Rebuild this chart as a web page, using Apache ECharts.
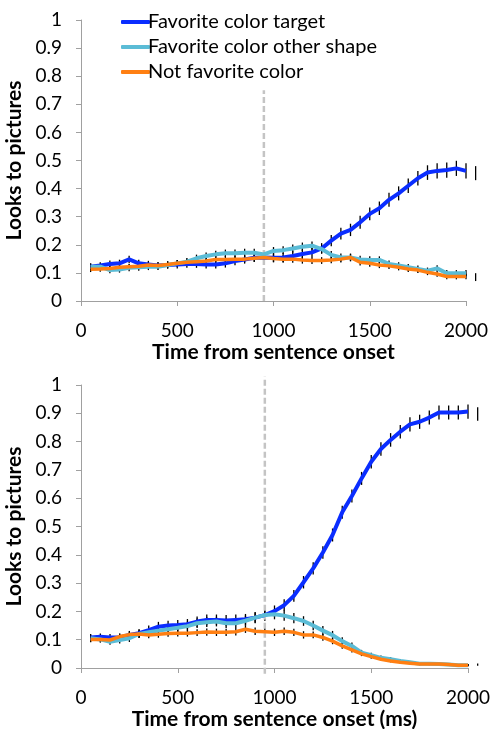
<!DOCTYPE html>
<html><head><meta charset="utf-8">
<script src="https://cdn.jsdelivr.net/npm/echarts@6/dist/echarts.min.js"></script>
<style>html,body{margin:0;padding:0;background:#fff}#c{width:490px;height:729px}</style>
</head><body><div id="c"></div>
<script>
var time = [50,100,150,200,250,300,350,400,450,500,550,600,650,700,750,800,850,900,950,1000,
            1050,1100,1150,1200,1250,1300,1350,1400,1450,1500,1550,1600,1650,1700,1750,1800,1850,1900,1950,2000];
var seriesNames = ['Favorite color target','Favorite color other shape','Not favorite color'];
var yTicks = [0,0.1,0.2,0.3,0.4,0.5,0.6,0.7,0.8,0.9,1];
var xTicks = [0,500,1000,1500,2000];
var markerTime = 950;
var topMarker = [0, 0.75];
var botMarker = [-0.02, 1.03];

var topTarget = [0.122,0.126,0.132,0.134,0.148,0.134,0.130,0.126,0.128,0.130,0.132,0.132,0.130,0.130,0.134,0.142,0.148,0.154,0.155,0.154,
                 0.155,0.160,0.167,0.173,0.187,0.215,0.240,0.253,0.280,0.310,0.330,0.360,0.383,0.410,0.437,0.457,0.463,0.466,0.472,0.463];
var topOther  = [0.122,0.122,0.110,0.112,0.118,0.120,0.122,0.122,0.128,0.134,0.140,0.152,0.160,0.166,0.170,0.170,0.172,0.172,0.166,0.178,
                 0.181,0.187,0.193,0.197,0.185,0.164,0.155,0.155,0.148,0.146,0.146,0.132,0.126,0.120,0.114,0.108,0.116,0.099,0.099,0.099];
var topNot    = [0.113,0.114,0.116,0.120,0.122,0.124,0.128,0.126,0.130,0.134,0.138,0.140,0.142,0.148,0.148,0.149,0.149,0.152,0.155,0.151,
                 0.149,0.149,0.146,0.144,0.144,0.146,0.149,0.155,0.138,0.134,0.128,0.125,0.120,0.114,0.110,0.102,0.096,0.087,0.087,0.087];
var topTargetErr = [0.012,0.012,0.012,0.013,0.013,0.013,0.013,0.013,0.013,0.014,0.014,0.014,0.014,0.014,0.015,0.015,0.015,0.015,0.016,0.016,
                    0.016,0.017,0.017,0.018,0.019,0.020,0.021,0.022,0.023,0.023,0.024,0.025,0.025,0.026,0.026,0.026,0.027,0.027,0.027,0.027];
var topOtherErr  = [0.011,0.011,0.011,0.011,0.012,0.012,0.012,0.012,0.012,0.012,0.013,0.013,0.013,0.013,0.013,0.013,0.014,0.014,0.014,0.014,
                    0.014,0.014,0.015,0.015,0.015,0.014,0.014,0.014,0.013,0.013,0.013,0.012,0.012,0.012,0.012,0.011,0.011,0.011,0.011,0.011];
var topNotErr    = [0.010,0.010,0.010,0.011,0.011,0.011,0.011,0.011,0.011,0.012,0.012,0.012,0.012,0.012,0.012,0.012,0.012,0.012,0.013,0.013,
                    0.013,0.013,0.013,0.012,0.012,0.012,0.012,0.012,0.012,0.012,0.011,0.011,0.011,0.011,0.010,0.010,0.010,0.010,0.010,0.010];
var topExtraBars = [[2050,0.430,0.480],[2050,0.071,0.099]];

var botTarget = [0.108,0.110,0.108,0.108,0.117,0.123,0.134,0.146,0.150,0.152,0.155,0.164,0.170,0.170,0.168,0.170,0.172,0.178,0.187,0.201,
                 0.222,0.255,0.303,0.352,0.408,0.470,0.550,0.608,0.670,0.729,0.774,0.806,0.835,0.861,0.870,0.885,0.903,0.903,0.903,0.906];
var botOther  = [0.105,0.101,0.093,0.099,0.105,0.120,0.126,0.132,0.137,0.142,0.148,0.158,0.162,0.164,0.158,0.158,0.167,0.178,0.187,0.190,
                 0.185,0.176,0.166,0.150,0.132,0.116,0.095,0.078,0.054,0.045,0.036,0.031,0.025,0.020,0.015,0.015,0.014,0.012,0.010,0.010];
var botNot    = [0.101,0.101,0.099,0.111,0.118,0.120,0.117,0.119,0.122,0.123,0.123,0.125,0.127,0.126,0.126,0.128,0.137,0.130,0.128,0.126,
                 0.130,0.126,0.117,0.117,0.108,0.095,0.078,0.064,0.050,0.040,0.031,0.025,0.020,0.017,0.014,0.014,0.014,0.012,0.010,0.010];
var botTargetErr = [0.012,0.012,0.012,0.013,0.014,0.015,0.016,0.017,0.017,0.018,0.018,0.018,0.019,0.019,0.019,0.019,0.019,0.020,0.020,0.020,
                    0.021,0.021,0.022,0.022,0.022,0.023,0.023,0.023,0.023,0.024,0.024,0.024,0.024,0.025,0.025,0.025,0.025,0.025,0.025,0.025];
var botOtherErr  = [0.011,0.011,0.011,0.012,0.013,0.014,0.015,0.015,0.016,0.016,0.016,0.017,0.017,0.017,0.017,0.017,0.018,0.018,0.018,0.018,
                    0.018,0.018,0.017,0.017,0.016,0.015,0.014,0.012,0.010,0.009,0.008,0.007,0.006,0.005,0.005,0.004,0.004,0.004,0.004,0.004];
var botNotErr    = [0.010,0.010,0.010,0.011,0.011,0.012,0.012,0.012,0.012,0.012,0.012,0.012,0.013,0.013,0.013,0.013,0.013,0.013,0.013,0.013,
                    0.013,0.013,0.013,0.012,0.012,0.011,0.010,0.009,0.008,0.007,0.006,0.005,0.005,0.004,0.004,0.004,0.004,0.004,0.004,0.004];
var botExtraBars = [[2050,0.874,0.921],[2050,0.008,0.016]];

var colors = ['#0a2dff','#5bbcd6','#ff7f12'];
var FONT = 'Lato';

function pairs(vals){ return time.map(function(t,i){ return [t, vals[i]]; }); }
function bars(vals, errs){ return time.map(function(t,i){ return [t, vals[i]-errs[i], vals[i]+errs[i]]; }); }
function errItem(params, api){
  var x = api.value(0), p1 = api.coord([x, api.value(1)]), p2 = api.coord([x, api.value(2)]);
  return {type:'line', shape:{x1:p1[0],y1:p1[1],x2:p2[0],y2:p2[1]}, style:{stroke:'#000', lineWidth:1.3}};
}
function errSeries(idx, data){
  return {type:'custom', xAxisIndex:idx, yAxisIndex:idx, renderItem:errItem, data:data,
          encode:{x:0,y:[1,2]}, silent:true, z:1, clip:false};
}
function lineSeries(idx, name, vals, color, w){
  return {type:'line', name:name, xAxisIndex:idx, yAxisIndex:idx, data:pairs(vals), showSymbol:false,
          symbol:'none', lineStyle:{color:color, width:w}, itemStyle:{color:color}, z:3, silent:true, animation:false};
}
function markerSeries(idx, range){
  return {type:'line', xAxisIndex:idx, yAxisIndex:idx, data:[[markerTime,range[0]],[markerTime,range[1]]],
          showSymbol:false, symbol:'none', clip:false, lineStyle:{color:'#c4c4c4', width:2.5, type:[6,3]}, z:2, silent:true};
}
function xAxis(idx, name, gap){
  return {type:'value', gridIndex:idx, min:xTicks[0], max:xTicks[xTicks.length-1], interval:500,
          name:name, nameLocation:'middle', nameGap:gap,
          nameTextStyle:{fontFamily:FONT, fontWeight:'bold', fontSize:21, color:'#000'},
          axisLine:{lineStyle:{color:'#a0a0a0', width:1}},
          axisTick:{show:true, inside:false, length:5, lineStyle:{color:'#a0a0a0'}},
          axisLabel:{fontFamily:FONT, fontSize:19, color:'#000', margin:20,
                     formatter:function(v){ return String(v); }},
          splitLine:{show:false}};
}
function yAxis(idx){
  return {type:'value', gridIndex:idx, min:yTicks[0], max:yTicks[yTicks.length-1], interval:0.1,
          name:'Looks to pictures', nameLocation:'middle', nameGap:52, nameRotate:90,
          nameTextStyle:{fontFamily:FONT, fontWeight:'bold', fontSize:21, color:'#000'},
          axisLine:{show:true, lineStyle:{color:'#a0a0a0', width:1}},
          axisTick:{show:true, inside:false, length:5, lineStyle:{color:'#a0a0a0'}},
          axisLabel:{fontFamily:FONT, fontSize:19, color:'#000', margin:19,
                     formatter:function(v){ return String(Math.round(v*10)/10); }},
          splitLine:{show:false}};
}

var chart = echarts.init(document.getElementById('c'), null, {renderer:'canvas'});
chart.setOption({
  animation:false,
  backgroundColor:'#fff',
  grid:[{left:81, right:24, top:20, bottom:428, outerBoundsMode:'none', containLabel:false},
        {left:81, right:22, top:385, bottom:61, outerBoundsMode:'none', containLabel:false}],
  legend:{data:seriesNames, orient:'vertical', left:116, top:7, itemGap:5, itemWidth:29, itemHeight:4,
          icon:'roundRect', textStyle:{fontFamily:FONT, fontSize:20, color:'#000', padding:[0,0,0,-7]}},
  xAxis:[xAxis(0,'Time from sentence onset',41), xAxis(1,'Time from sentence onset (ms)',41)],
  yAxis:[yAxis(0), yAxis(1)],
  series:[
    markerSeries(0, topMarker), markerSeries(1, botMarker),
    errSeries(0, bars(topTarget, topTargetErr)), errSeries(0, bars(topOther, topOtherErr)), errSeries(0, bars(topNot, topNotErr)), errSeries(0, topExtraBars),
    errSeries(1, bars(botTarget, botTargetErr)), errSeries(1, bars(botOther, botOtherErr)), errSeries(1, bars(botNot, botNotErr)), errSeries(1, botExtraBars),
    lineSeries(0, seriesNames[0], topTarget, colors[0], 4),
    lineSeries(0, seriesNames[1], topOther, colors[1], 4),
    lineSeries(0, seriesNames[2], topNot, colors[2], 3.5),
    lineSeries(1, seriesNames[0], botTarget, colors[0], 4),
    lineSeries(1, seriesNames[1], botOther, colors[1], 4),
    lineSeries(1, seriesNames[2], botNot, colors[2], 3.5)
  ]
});
</script></body></html>
